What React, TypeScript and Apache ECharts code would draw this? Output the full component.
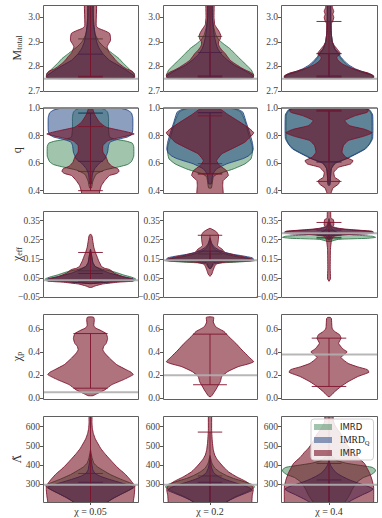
import React, { useEffect, useRef } from "react";
import * as echarts from "echarts";

type Pt = [number, number]; // [parameter value, relative half-width of the violin]
type Q = [number, number] | null; // [lower, upper] quantile bars

const columnLabels = ["χ = 0.05", "χ = 0.2", "χ = 0.4"];
const modelNames = ["IMRD", "IMRD_Q", "IMRP"];

// ---------------- M_total ----------------
const mtotalTicks = [2.7, 2.8, 2.9, 3.0];
const mtotalTruth = [2.75, 2.75, 2.75];
const mtotalImrd: Pt[][] = [
  [[2.751, 0.86], [2.756, 0.93], [2.77, 0.92], [2.785, 0.84], [2.8, 0.76], [2.815, 0.68], [2.832, 0.6], [2.85, 0.48], [2.865, 0.38], [2.88, 0.28], [2.9, 0.18], [2.93, 0.1], [2.97, 0.06], [3.1, 0.04]],
  [[2.751, 0.86], [2.756, 0.92], [2.765, 0.93], [2.785, 0.88], [2.805, 0.78], [2.825, 0.67], [2.848, 0.55], [2.873, 0.42], [2.893, 0.28], [2.91, 0.18], [2.93, 0.12], [2.96, 0.08], [3.0, 0.05], [3.1, 0.04]],
  [[2.751, 0.86], [2.756, 0.93], [2.765, 0.88], [2.775, 0.7], [2.79, 0.5], [2.805, 0.38], [2.82, 0.3], [2.84, 0.22], [2.855, 0.18], [2.87, 0.12], [2.9, 0.07], [2.95, 0.04], [3.1, 0.03]],
];
const mtotalImrdQ: Pt[][] = [
  [[2.751, 0.86], [2.756, 0.93], [2.765, 0.9], [2.785, 0.75], [2.805, 0.58], [2.825, 0.4], [2.852, 0.26], [2.875, 0.18], [2.9, 0.13], [2.94, 0.09], [3.0, 0.06], [3.1, 0.05]],
  [[2.751, 0.86], [2.756, 0.93], [2.765, 0.9], [2.785, 0.72], [2.805, 0.52], [2.825, 0.38], [2.85, 0.24], [2.875, 0.16], [2.9, 0.12], [2.94, 0.08], [3.0, 0.05], [3.1, 0.04]],
  [[2.751, 0.86], [2.756, 0.93], [2.765, 0.9], [2.775, 0.75], [2.79, 0.55], [2.805, 0.42], [2.82, 0.33], [2.84, 0.24], [2.855, 0.2], [2.87, 0.13], [2.9, 0.07], [2.95, 0.04], [3.1, 0.03]],
];
const mtotalImrp: Pt[][] = [
  [[2.751, 0.86], [2.755, 0.92], [2.77, 0.92], [2.78, 0.88], [2.79, 0.76], [2.8, 0.68], [2.812, 0.6], [2.825, 0.53], [2.84, 0.47], [2.855, 0.4], [2.868, 0.37], [2.88, 0.35], [2.892, 0.38], [2.905, 0.42], [2.92, 0.42], [2.935, 0.4], [2.945, 0.3], [2.955, 0.17], [2.965, 0.12], [3.1, 0.12]],
  [[2.751, 0.86], [2.756, 0.92], [2.768, 0.92], [2.777, 0.85], [2.785, 0.76], [2.795, 0.66], [2.805, 0.58], [2.815, 0.5], [2.825, 0.43], [2.84, 0.37], [2.853, 0.32], [2.867, 0.25], [2.88, 0.2], [2.89, 0.18], [2.9, 0.18], [2.912, 0.22], [2.925, 0.23], [2.94, 0.2], [2.955, 0.15], [2.97, 0.1], [3.0, 0.085], [3.1, 0.08]],
  [[2.751, 0.86], [2.755, 0.93], [2.762, 0.93], [2.773, 0.82], [2.78, 0.68], [2.787, 0.57], [2.795, 0.44], [2.801, 0.37], [2.81, 0.28], [2.819, 0.22], [2.83, 0.17], [2.839, 0.16], [2.847, 0.22], [2.855, 0.23], [2.863, 0.2], [2.873, 0.16], [2.885, 0.11], [2.9, 0.07], [2.93, 0.05], [2.975, 0.05], [2.985, 0.08], [3.0, 0.1], [3.012, 0.08], [3.025, 0.1], [3.04, 0.07], [3.1, 0.05]],
];
const mtotalQuantiles: Q[][] = [
  [[2.757, 2.912], [2.756, 2.85], [2.76, 3.2]],
  [[2.757, 2.922], [2.757, 2.857], [2.762, 3.2]],
  [[2.757, 2.852], [2.757, 2.852], [2.762, 2.983]],
];

// ---------------- q ----------------
const qTicks = [0.4, 0.6, 0.8, 1.0];
const qTruth = [1.0, 1.0, 1.0];
const qImrd: Pt[][] = [
  [[0.42, 0.02], [0.47, 0.05], [0.52, 0.12], [0.55, 0.3], [0.575, 0.62], [0.59, 0.78], [0.61, 0.86], [0.65, 0.91], [0.72, 0.91], [0.745, 0.88], [0.76, 0.75], [0.775, 0.5], [0.79, 0.4], [0.85, 0.38], [0.93, 0.38], [0.97, 0.36], [0.99, 0.3], [1.0, 0.2]],
  [[0.42, 0.03], [0.5, 0.07], [0.52, 0.15], [0.534, 0.28], [0.558, 0.5], [0.594, 0.74], [0.63, 0.87], [0.67, 0.9], [0.72, 0.9], [0.8, 0.83], [0.9, 0.75], [0.97, 0.66], [0.99, 0.55], [1.0, 0.4]],
  [[0.45, 0.02], [0.56, 0.05], [0.6, 0.14], [0.63, 0.34], [0.667, 0.55], [0.703, 0.74], [0.74, 0.84], [0.78, 0.89], [0.95, 0.89], [0.985, 0.83], [1.0, 0.72]],
];
const qImrdQ: Pt[][] = [
  [[0.45, 0.02], [0.52, 0.04], [0.56, 0.09], [0.6, 0.19], [0.63, 0.3], [0.68, 0.36], [0.73, 0.38], [0.755, 0.42], [0.775, 0.6], [0.79, 0.78], [0.81, 0.87], [0.84, 0.89], [0.93, 0.89], [0.965, 0.86], [0.985, 0.78], [1.0, 0.6]],
  [[0.45, 0.03], [0.52, 0.06], [0.558, 0.14], [0.594, 0.35], [0.618, 0.57], [0.635, 0.72], [0.655, 0.83], [0.68, 0.9], [0.703, 0.92], [0.752, 0.9], [0.824, 0.84], [0.897, 0.77], [0.97, 0.7], [0.99, 0.6], [1.0, 0.45]],
  [[0.44, 0.02], [0.5, 0.03], [0.56, 0.05], [0.6, 0.12], [0.63, 0.36], [0.667, 0.57], [0.703, 0.76], [0.74, 0.85], [0.78, 0.91], [0.95, 0.91], [0.985, 0.85], [1.0, 0.75]],
];
const qImrp: Pt[][] = [
  [[0.35, 0.18], [0.39, 0.19], [0.437, 0.23], [0.473, 0.3], [0.51, 0.4], [0.525, 0.55], [0.54, 0.6], [0.558, 0.58], [0.57, 0.5], [0.58, 0.44], [0.606, 0.37], [0.643, 0.33], [0.68, 0.26], [0.727, 0.26], [0.764, 0.37], [0.788, 0.65], [0.812, 0.92], [0.836, 0.65], [0.861, 0.33], [0.897, 0.19], [0.951, 0.09], [0.99, 0.05], [1.0, 0.03]],
  [[0.35, 0.27], [0.437, 0.27], [0.473, 0.28], [0.51, 0.39], [0.546, 0.35], [0.582, 0.21], [0.618, 0.14], [0.667, 0.25], [0.703, 0.46], [0.752, 0.74], [0.788, 0.85], [0.82, 0.93], [0.848, 0.85], [0.897, 0.64], [0.951, 0.39], [0.994, 0.21], [1.0, 0.1]],
  [[0.37, 0.03], [0.39, 0.05], [0.418, 0.08], [0.449, 0.2], [0.473, 0.22], [0.497, 0.12], [0.534, 0.1], [0.57, 0.2], [0.594, 0.45], [0.618, 0.5], [0.643, 0.35], [0.679, 0.27], [0.727, 0.3], [0.764, 0.4], [0.795, 0.72], [0.82, 0.9], [0.845, 0.75], [0.873, 0.42], [0.909, 0.33], [0.945, 0.55], [0.97, 0.8], [0.99, 0.82], [1.0, 0.7]],
];
const qQuantiles: Q[][] = [
  [[0.54, 0.965], [0.613, 0.962], [0.4, 0.865]],
  [[0.525, 0.965], [0.596, 0.967], [0.52, 0.943]],
  [[0.61, 0.979], [0.608, 0.979], [0.467, 0.985]],
];

// ---------------- chi_eff ----------------
const chiEffTicks = [-0.05, 0.05, 0.15, 0.25, 0.35];
const chiEffTruth = [0.037, 0.142, 0.284];
const chiEffImrd: Pt[][] = [
  [[0.02, 0.02], [0.03, 0.5], [0.036, 0.93], [0.045, 0.95], [0.055, 0.85], [0.065, 0.7], [0.075, 0.58], [0.085, 0.45], [0.095, 0.25], [0.11, 0.1], [0.13, 0.05], [0.16, 0.03], [0.2, 0.0]],
  [[0.1, 0.02], [0.125, 0.1], [0.133, 0.6], [0.14, 0.95], [0.148, 0.88], [0.16, 0.6], [0.17, 0.4], [0.185, 0.2], [0.2, 0.1], [0.22, 0.04], [0.25, 0.0]],
  [[0.24, 0.02], [0.252, 0.2], [0.257, 0.8], [0.262, 0.97], [0.268, 0.9], [0.275, 0.5], [0.285, 0.2], [0.3, 0.08], [0.32, 0.03], [0.34, 0.0]],
];
const chiEffImrdQ: Pt[][] = [
  [[0.02, 0.02], [0.03, 0.5], [0.036, 0.92], [0.045, 0.9], [0.055, 0.72], [0.065, 0.55], [0.075, 0.4], [0.085, 0.3], [0.095, 0.2], [0.11, 0.1], [0.13, 0.05], [0.17, 0.02], [0.2, 0.0]],
  [[0.1, 0.02], [0.13, 0.08], [0.138, 0.6], [0.145, 0.93], [0.155, 0.9], [0.165, 0.7], [0.175, 0.45], [0.185, 0.3], [0.195, 0.2], [0.21, 0.1], [0.23, 0.04], [0.26, 0.0]],
  [[0.25, 0.02], [0.27, 0.06], [0.278, 0.5], [0.283, 0.92], [0.29, 0.93], [0.297, 0.7], [0.303, 0.35], [0.31, 0.12], [0.32, 0.05], [0.34, 0.02], [0.36, 0.0]],
];
const chiEffImrp: Pt[][] = [
  [[0.0, 0.02], [0.008, 0.1], [0.018, 0.25], [0.028, 0.6], [0.033, 0.9], [0.04, 0.92], [0.048, 0.82], [0.055, 0.7], [0.064, 0.6], [0.075, 0.5], [0.085, 0.45], [0.094, 0.4], [0.1, 0.3], [0.11, 0.23], [0.125, 0.2], [0.14, 0.17], [0.16, 0.14], [0.185, 0.1], [0.21, 0.07], [0.24, 0.05], [0.27, 0.03], [0.28, 0.0]],
  [[0.058, 0.0], [0.07, 0.04], [0.085, 0.06], [0.105, 0.09], [0.122, 0.13], [0.132, 0.3], [0.138, 0.85], [0.143, 0.93], [0.152, 0.86], [0.161, 0.7], [0.168, 0.55], [0.175, 0.45], [0.182, 0.32], [0.19, 0.29], [0.2, 0.26], [0.21, 0.2], [0.22, 0.16], [0.235, 0.17], [0.255, 0.18], [0.275, 0.18], [0.29, 0.14], [0.3, 0.08], [0.31, 0.0]],
  [[0.032, 0.0], [0.045, 0.03], [0.1, 0.025], [0.2, 0.03], [0.245, 0.05], [0.258, 0.07], [0.268, 0.1], [0.276, 0.3], [0.281, 0.8], [0.287, 0.92], [0.294, 0.9], [0.3, 0.6], [0.305, 0.35], [0.31, 0.19], [0.318, 0.08], [0.327, 0.1], [0.34, 0.1], [0.355, 0.09], [0.362, 0.04], [0.42, 0.03]],
];
const chiEffQuantiles: Q[][] = [
  [[0.032, 0.087], [0.032, 0.073], [0.03, 0.183]],
  [[0.135, 0.175], [0.14, 0.19], [0.14, 0.273]],
  [[0.255, 0.275], [0.275, 0.3], [0.262, 0.34]],
];

// ---------------- chi_p (only IMRP) ----------------
const chiPTicks = [0.0, 0.2, 0.4, 0.6];
const chiPTruth = [0.05, 0.197, 0.377];
const chiPImrd: Pt[][] = [[], [], []];
const chiPImrdQ: Pt[][] = [[], [], []];
const chiPImrp: Pt[][] = [
  [[0.02, 0.05], [0.04, 0.15], [0.07, 0.3], [0.116, 0.45], [0.16, 0.7], [0.203, 0.9], [0.225, 0.85], [0.246, 0.75], [0.29, 0.55], [0.346, 0.4], [0.39, 0.3], [0.42, 0.26], [0.45, 0.28], [0.475, 0.33], [0.517, 0.36], [0.56, 0.33], [0.59, 0.2], [0.61, 0.1], [0.63, 0.07], [0.68, 0.08], [0.7, 0.07], [0.705, 0.03]],
  [[0.012, 0.02], [0.026, 0.05], [0.07, 0.12], [0.113, 0.18], [0.142, 0.22], [0.186, 0.25], [0.23, 0.38], [0.272, 0.6], [0.3, 0.85], [0.316, 0.93], [0.34, 0.87], [0.36, 0.82], [0.417, 0.68], [0.475, 0.55], [0.533, 0.4], [0.577, 0.3], [0.6, 0.2], [0.62, 0.12], [0.66, 0.07], [0.7, 0.08], [0.705, 0.03]],
  [[0.012, 0.02], [0.026, 0.05], [0.055, 0.12], [0.1, 0.25], [0.142, 0.4], [0.186, 0.6], [0.223, 0.83], [0.246, 0.8], [0.27, 0.6], [0.3, 0.4], [0.35, 0.25], [0.374, 0.3], [0.4, 0.38], [0.415, 0.33], [0.43, 0.28], [0.475, 0.2], [0.52, 0.25], [0.55, 0.22], [0.577, 0.12], [0.6, 0.07], [0.62, 0.06], [0.69, 0.05], [0.7, 0.03]],
];
const chiPQuantiles: Q[][] = [
  [null, null, [0.085, 0.56]],
  [null, null, [0.115, 0.555]],
  [null, null, [0.1, 0.52]],
];

// ---------------- Lambda tilde ----------------
const lambdaTicks = [300, 400, 500, 600];
const lambdaTruth = [297, 297, 297];
const lambdaImrd: Pt[][] = [
  [[200, 0.3], [230, 0.5], [260, 0.75], [280, 0.9], [292, 0.95], [300, 0.9], [315, 0.75], [330, 0.6], [350, 0.42], [370, 0.28], [390, 0.15], [410, 0.07], [440, 0.03], [480, 0.0]],
  [[200, 0.3], [230, 0.5], [260, 0.78], [285, 0.95], [300, 0.88], [315, 0.7], [330, 0.5], [345, 0.35], [365, 0.2], [385, 0.1], [410, 0.04], [450, 0.0]],
  [[200, 0.3], [240, 0.42], [280, 0.5], [310, 0.58], [335, 0.72], [350, 0.88], [365, 0.96], [375, 0.97], [388, 0.9], [400, 0.6], [410, 0.35], [425, 0.15], [450, 0.05], [480, 0.0]],
];
const lambdaImrdQ: Pt[][] = [
  [[200, 0.33], [215, 0.4], [235, 0.55], [255, 0.7], [270, 0.82], [284, 0.9], [295, 0.8], [310, 0.6], [325, 0.4], [340, 0.22], [355, 0.1], [375, 0.05], [420, 0.02], [460, 0.0]],
  [[200, 0.3], [215, 0.4], [235, 0.58], [255, 0.78], [268, 0.9], [280, 0.85], [295, 0.7], [310, 0.5], [325, 0.32], [340, 0.18], [360, 0.08], [390, 0.03], [440, 0.0]],
  [[200, 0.35], [220, 0.5], [245, 0.7], [262, 0.85], [275, 0.92], [290, 0.8], [305, 0.62], [320, 0.45], [340, 0.28], [360, 0.15], [380, 0.08], [400, 0.03], [430, 0.0]],
];
const lambdaImrp: Pt[][] = [
  [[150, 0.9], [207, 0.9], [240, 0.92], [270, 0.93], [284, 0.93], [302, 0.9], [328, 0.82], [355, 0.72], [380, 0.6], [405, 0.5], [432, 0.4], [460, 0.3], [485, 0.22], [510, 0.16], [537, 0.1], [565, 0.06], [590, 0.04], [620, 0.03], [700, 0.03]],
  [[150, 0.88], [207, 0.89], [242, 0.9], [269, 0.92], [286, 0.91], [312, 0.78], [338, 0.57], [365, 0.39], [400, 0.25], [430, 0.15], [452, 0.1], [480, 0.07], [520, 0.05], [580, 0.035], [700, 0.03]],
  [[150, 0.92], [207, 0.93], [285, 0.93], [320, 0.9], [356, 0.85], [380, 0.8], [408, 0.74], [440, 0.6], [470, 0.5], [487, 0.43], [520, 0.34], [557, 0.26], [585, 0.18], [609, 0.12], [630, 0.09], [700, 0.07]],
];
const lambdaQuantiles: Q[][] = [
  [[195, 356], [195, 310], [150, 800]],
  [[195, 343], [195, 310], [150, 572]],
  [[195, 408], [195, 322], [150, 800]],
];

// ---------------- layout & style ----------------
const colLefts = [43, 163, 281];
const colWidths = [95, 94, 96];
const rowTops = [5, 107.5, 211, 314, 416];
const rowHeights = [86, 85.5, 86, 85, 86];

const fills = ["rgba(46,125,74,0.45)", "rgba(35,70,130,0.52)", "rgba(110,0,20,0.55)"];
const edges = ["rgba(40,110,65,0.85)", "rgba(30,65,130,0.85)", "rgba(125,20,45,0.9)"];
const serif = "Liberation Serif";

const rows = [
  { name: "{b|M}{s|total}", sets: [mtotalImrd, mtotalImrdQ, mtotalImrp], quant: mtotalQuantiles, truth: mtotalTruth, ticks: mtotalTicks, min: 2.7, max: 3.05, dec: 1, bar: 0.26 },
  { name: "{b|q}", sets: [qImrd, qImrdQ, qImrp], quant: qQuantiles, truth: qTruth, ticks: qTicks, min: 0.383, max: 1.004, dec: 1, bar: 0.26 },
  { name: "{b|χ}{s|eff}", sets: [chiEffImrd, chiEffImrdQ, chiEffImrp], quant: chiEffQuantiles, truth: chiEffTruth, ticks: chiEffTicks, min: -0.05, max: 0.4, dec: 2, bar: 0.26 },
  { name: "{b|χ}{s|p}", sets: [chiPImrd, chiPImrdQ, chiPImrp], quant: chiPQuantiles, truth: chiPTruth, ticks: chiPTicks, min: -0.009, max: 0.73, dec: 1, bar: 0.36 },
  { name: "{t|Λ̃}", sets: [lambdaImrd, lambdaImrdQ, lambdaImrp], quant: lambdaQuantiles, truth: lambdaTruth, ticks: lambdaTicks, min: 207, max: 656, dec: 0, bar: 0.26 },
];

function violinSeries(name: string, idx: number, profile: Pt[], quant: Q, m: number, barHalf: number) {
  const data = profile.map(([v, w]) => [w, v]);
  const fill = fills[m];
  const edge = edges[m];
  return {
    type: "custom",
    name,
    xAxisIndex: idx,
    yAxisIndex: idx,
    clip: true,
    silent: true,
    itemStyle: { color: fill, borderColor: edge },
    data,
    renderItem: (params: any, api: any) => {
      if (params.dataIndex !== 0) return null;
      const right = data.map((d) => api.coord([d[0], d[1]]));
      const left = data.slice().reverse().map((d) => api.coord([-d[0], d[1]]));
      const children: any[] = [
        { type: "polygon", shape: { points: right.concat(left), smooth: 0.15 }, style: { fill, stroke: edge, lineWidth: 1 } },
      ];
      if (quant) {
        const [lo, hi] = quant;
        const a = api.coord([0, lo]);
        const b = api.coord([0, hi]);
        children.push({ type: "line", shape: { x1: a[0], y1: a[1], x2: b[0], y2: b[1] }, style: { stroke: edge, lineWidth: 1 } });
        [lo, hi].forEach((q) => {
          const p1 = api.coord([-barHalf, q]);
          const p2 = api.coord([barHalf, q]);
          children.push({ type: "line", shape: { x1: p1[0], y1: p1[1], x2: p2[0], y2: p2[1] }, style: { stroke: edge, lineWidth: 1 } });
        });
      }
      return { type: "group", children };
    },
  };
}

function buildOption() {
  const grid: any[] = [];
  const xAxis: any[] = [];
  const yAxis: any[] = [];
  const series: any[] = [];
  const graphic: any[] = [];

  rows.forEach((row, r) => {
    const fmt = (v: number) => (v < -1e-9 ? "−" : "") + Math.abs(v).toFixed(row.dec);
    for (let c = 0; c < 3; c++) {
      const idx = r * 3 + c;
      grid.push({ left: colLefts[c], top: rowTops[r], width: colWidths[c], height: rowHeights[r], show: false });
      xAxis.push({
        gridIndex: idx,
        type: "value",
        show: r === 4,
        min: -1,
        max: 1,
        position: "bottom",
        axisLine: { show: false, onZero: false },
        axisLabel: { show: false },
        splitLine: { show: false },
        axisTick: { show: r === 4, customValues: [0], length: 3, lineStyle: { color: "#555" } },
      });
      yAxis.push({
        gridIndex: idx,
        type: "value",
        min: row.min,
        max: row.max,
        position: "left",
        axisLine: { show: false, onZero: false },
        splitLine: { show: false },
        axisTick: { show: true, customValues: row.ticks, length: 3, lineStyle: { color: "#555" } },
        axisLabel: { customValues: row.ticks, formatter: fmt, fontFamily: serif, fontSize: 9.5, color: "#444", margin: 3 },
      });
      for (let m = 0; m < 3; m++) {
        const profile = row.sets[m][c];
        if (!profile || profile.length === 0) continue;
        series.push(violinSeries(modelNames[m], idx, profile, row.quant[c][m], m, row.bar));
      }
      series.push({
        type: "line",
        xAxisIndex: idx,
        yAxisIndex: idx,
        data: [[-1, row.truth[c]], [1, row.truth[c]]],
        symbol: "none",
        silent: true,
        z: 5,
        lineStyle: { color: "rgba(175,175,175,0.9)", width: 2 },
      });
      graphic.push({
        type: "rect",
        silent: true,
        z: 100,
        shape: { x: colLefts[c] + 0.5, y: rowTops[r] + 0.5, width: colWidths[c], height: rowHeights[r] },
        style: { fill: "none", stroke: "#5f5f5f", lineWidth: 1 },
      });
    }
    graphic.push({
      type: "text",
      silent: true,
      x: 17,
      y: rowTops[r] + rowHeights[r] / 2,
      rotation: Math.PI / 2,
      style: {
        text: row.name,
        align: "center",
        verticalAlign: "middle",
        rich: {
          b: { fontFamily: serif, fontSize: 12, fill: "#333" },
          t: { fontFamily: "DejaVu Serif", fontSize: 11, fill: "#333" },
          s: { fontFamily: serif, fontSize: 8, fill: "#333", verticalAlign: "bottom", padding: [5, 0, 0, 0] },
        },
      },
    });
  });

  columnLabels.forEach((t, c) => {
    graphic.push({
      type: "text",
      silent: true,
      x: colLefts[c] + colWidths[c] / 2,
      y: 511,
      style: { text: t, align: "center", verticalAlign: "middle", fontFamily: serif, fontSize: 10, fill: "#333" },
    });
  });

  return {
    animation: false,
    backgroundColor: "#ffffff",
    grid,
    xAxis,
    yAxis,
    series,
    graphic,
    legend: {
      data: modelNames,
      orient: "vertical",
      left: 311,
      top: 419,
      itemWidth: 18,
      itemHeight: 6,
      itemGap: 1,
      icon: "rect",
      selectedMode: false,
      backgroundColor: "rgba(255,255,255,0.85)",
      borderColor: "#d0d0d0",
      borderWidth: 1,
      borderRadius: 3,
      padding: [2, 4, 1, 3],
      itemStyle: { borderWidth: 0 },
      formatter: (n: string) => (n === "IMRD_Q" ? "{m|IMRD}{q|Q}" : n),
      textStyle: {
        fontFamily: "DejaVu Sans",
        fontSize: 8.5,
        lineHeight: 12,
        color: "#222",
        padding: [0, 0, 0, 3],
        rich: {
          m: { fontFamily: serif, fontSize: 9.5, color: "#222" },
          q: { fontFamily: serif, fontSize: 6.5, color: "#222", verticalAlign: "bottom", padding: [3, 0, 0, 0] },
        },
      },
    },
  };
}

export default function App() {
  const ref = useRef<HTMLDivElement>(null);
  useEffect(() => {
    if (!ref.current) return;
    const chart = echarts.init(ref.current, undefined, { renderer: "svg" });
    chart.setOption(buildOption() as any);
    return () => chart.dispose();
  }, []);
  return <div ref={ref} style={{ position: "absolute", left: 0, top: 0, width: 382, height: 518 }} />;
}
